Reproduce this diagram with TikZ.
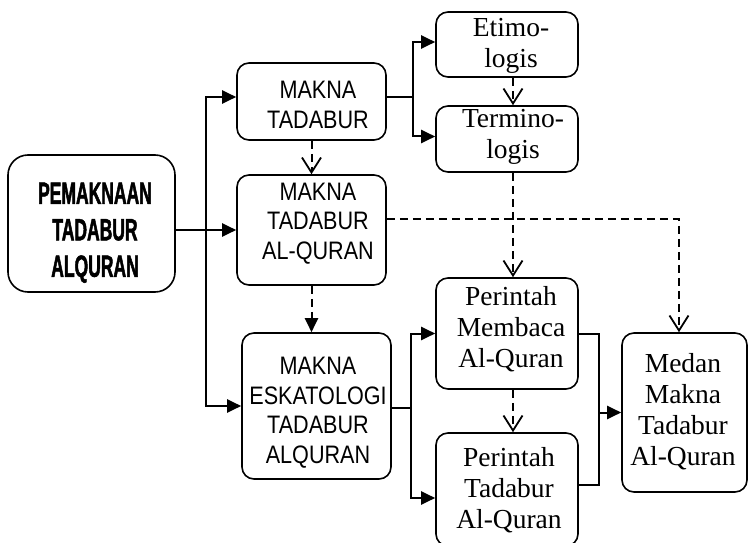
\documentclass[tikz,border=0pt]{standalone}
\usepackage{fontspec}
\usepackage{graphicx}
\usetikzlibrary{arrows.meta}
\setmainfont{Liberation Serif}
\newfontfamily\sansfam{Liberation Sans}
\newfontfamily\narrowfam[FakeStretch=0.57,BoldFeatures={FakeBold=1.5}]{Liberation Sans}

% centred stack of lines
\newcommand\lines[1]{\begin{tabular}{@{}c@{}}#1\end{tabular}}
% sans caps, slightly tall
\newcommand\tallcaps[1]{\scalebox{1}[1.17]{\lines{#1}}}

\tikzset{
  box/.style={draw, line width=1.6pt, rounded corners=12pt, inner sep=0pt},
  bigbox/.style={box, rounded corners=20pt},
  headtxt/.style={inner sep=0pt, font=\fontsize{30.7}{36.5}\selectfont\narrowfam\bfseries},
  capstxt/.style={inner sep=0pt, font=\fontsize{21.6}{25.6}\selectfont\sansfam},
  serifxt/.style={inner sep=0pt, font=\fontsize{27.5}{31}\selectfont},
  link/.style={line width=2pt},
  arr/.style={link, -{Triangle[length=14pt,width=13pt]}},
  dlink/.style={line width=2pt, dash pattern=on 8pt off 5pt},
  darr/.style={dlink, -{Triangle[length=14pt,width=13pt]}},
  vee/.style={dlink, -{Straight Barb[length=15pt,width=19pt,line width=1.8pt]}},
}

\begin{document}
\begin{tikzpicture}[x=1pt,y=-1pt]
\useasboundingbox (0,0) rectangle (748,543);

% boxes
\node[bigbox, minimum width=167pt, minimum height=137pt] (P)  at (91.5,223.5) {};
\node[box, minimum width=149pt, minimum height=77pt]  (MT)  at (311.5,101.5) {};
\node[box, minimum width=149pt, minimum height=110pt] (MTA) at (311.5,230) {};
\node[box, minimum width=149pt, minimum height=146pt] (ME)  at (316.5,406) {};
\node[box, minimum width=142pt, minimum height=65pt]  (Et)  at (507,44.5) {};
\node[box, minimum width=142pt, minimum height=66pt]  (Te)  at (507,139) {};
\node[box, minimum width=142pt, minimum height=111pt] (PM)  at (507,333.5) {};
\node[box, minimum width=142pt, minimum height=113pt] (PT)  at (507,489.5) {};
\node[box, minimum width=125pt, minimum height=159pt] (Md)  at (684.5,412.5) {};

% texts
\node[headtxt] (Pt)   at (95,233)   {\lines{PEMAKNAAN\\TADABUR\\ALQURAN}};
\node[capstxt] (MTt)  at (318,107.3) {\tallcaps{MAKNA\\TADABUR}};
\node[capstxt] (MTAt) at (318,224)  {\tallcaps{MAKNA\\TADABUR\\AL-QURAN}};
\node[capstxt] (MEt)  at (318,413)  {\tallcaps{MAKNA\\ESKATOLOGI\\TADABUR\\ALQURAN}};
\node[serifxt] (Ett)  at (511,46.3) {\lines{Etimo-\\logis}};
\node[serifxt] (Tet)  at (513,137)  {\lines{Termino-\\logis}};
\node[serifxt] (PMt)  at (511,330)  {\lines{Perintah\\Membaca\\Al-Quran}};
\node[serifxt] (PTt)  at (509,491)  {\lines{Perintah\\Tadabur\\Al-Quran}};
\node[serifxt] (Mdt)  at (683,413)  {\lines{Medan\\Makna\\Tadabur\\Al-Quran}};

% bus lines
\coordinate (busA) at (206,0);
\coordinate (busB) at (413,0);
\coordinate (busC) at (411,0);
\coordinate (busD) at (599,0);

% solid connectors
\draw[arr] (MTA.west -| P.east) -- (MTA.west);
\draw[arr] ([yshift=4.5pt]MT.west -| busA) -- (busA |- ME.west) -- (ME.west);
\draw[arr] (busA |- ME.west) -- ([yshift=4.5pt]busA |- MT.west) -- ([yshift=4.5pt]MT.west);

\draw[link] ([yshift=4.5pt]MT.east) -- ([yshift=4.5pt]MT.east -| busB);
\draw[arr] ([yshift=2.5pt]busB |- Te.west) -- ([yshift=2.5pt]busB |- Et.west) -- ([yshift=2.5pt]Et.west);
\draw[arr] ([yshift=2.5pt]busB |- Et.west) -- ([yshift=2.5pt]busB |- Te.west) -- ([yshift=2.5pt]Te.west);

\draw[link] ([yshift=-2pt]ME.east) -- ([yshift=-2pt]ME.east -| busC);
\draw[arr] ([yshift=-8.5pt]busC |- PT.west) -- (busC |- PM.west) -- (PM.west);
\draw[arr] (busC |- PM.west) -- ([yshift=-8.5pt]busC |- PT.west) -- ([yshift=-8.5pt]PT.west);

\draw[link] (PM.east) -- (busD |- PM.east) -- ([yshift=4.5pt]busD |- PT.east) -- ([yshift=4.5pt]PT.east);
\draw[arr] (busD |- Md.west) -- (Md.west);

% dashed connectors
\draw[vee] (MT.south) -- (MT.south |- MTA.north);
\draw[darr] (MTA.south) -- (MTA.south |- ME.north);
\draw[vee] ([xshift=6pt]Et.south) -- ([xshift=6pt]Te.north);
\draw[vee] ([xshift=6pt]Te.south) -- ([xshift=6pt]PM.north);
\draw[vee] ([xshift=6pt]PM.south) -- ([xshift=6pt]PT.north);
\draw[vee] ([yshift=11pt]MTA.east) -| ([xshift=-5.5pt]Md.north);
\end{tikzpicture}
\end{document}
